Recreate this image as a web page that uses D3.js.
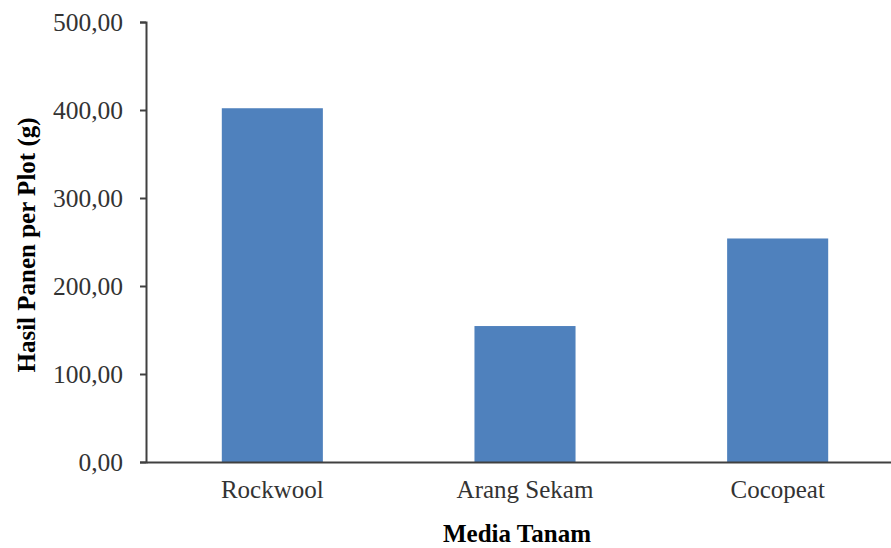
<!DOCTYPE html>
<html><head><meta charset="utf-8">
<script src="https://cdn.jsdelivr.net/npm/d3@7"></script>
<style>html,body{margin:0;padding:0;background:#fff;}svg{display:block;}</style>
</head><body>
<script>
const categories = ["Rockwool", "Arang Sekam", "Cocopeat"];
const values = [402, 154.5, 254];
const yTicks = [0, 100, 200, 300, 400, 500];
const yTitle = "Hasil Panen per Plot (g)";
const xTitle = "Media Tanam";

const W = 891, H = 548;
const svg = d3.select("body").append("svg").attr("width", W).attr("height", H);
const x = d3.scaleBand().domain(categories).range([146, 904]).paddingInner(0.6).paddingOuter(0.3);
const y = d3.scaleLinear().domain([0, 500]).range([462, 22]);
const fmt = v => d3.format(".2f")(v).replace(".", ",");
const font = "'Liberation Serif','Times New Roman',serif";

svg.selectAll("rect.bar").data(values).enter().append("rect")
  .attr("class", "bar")
  .attr("x", (d, i) => x(categories[i]))
  .attr("width", x.bandwidth())
  .attr("y", d => y(d))
  .attr("height", d => y(0) - y(d))
  .attr("fill", "#4f81bd");

const yAxis = svg.append("g").attr("transform", "translate(146,0)")
  .call(d3.axisLeft(y).tickValues(yTicks).tickFormat(fmt).tickSizeOuter(0).tickSize(6).tickPadding(17));
yAxis.select(".domain").attr("stroke", "#404040").attr("stroke-width", 2);
yAxis.selectAll(".tick line").attr("stroke", "#404040").attr("stroke-width", 2);
yAxis.selectAll(".tick text").attr("font-family", font).attr("font-size", 25.5).attr("fill", "#333");

const xAxis = svg.append("g").attr("transform", "translate(0,462)")
  .call(d3.axisBottom(x).tickSize(0).tickSizeOuter(0).tickPadding(18));
xAxis.select(".domain").attr("stroke", "#404040").attr("stroke-width", 2);
xAxis.selectAll(".tick text").attr("font-family", font).attr("font-size", 25).attr("fill", "#333");

svg.append("text").attr("transform", "translate(35,245) rotate(-90)")
  .attr("text-anchor", "middle").attr("font-family", font).attr("font-weight", "bold")
  .attr("font-size", 25).attr("fill", "#000").text(yTitle);
svg.append("text").attr("x", 517).attr("y", 542)
  .attr("text-anchor", "middle").attr("font-family", font).attr("font-weight", "bold")
  .attr("font-size", 25).attr("fill", "#000").text(xTitle);
</script>
</body></html>
